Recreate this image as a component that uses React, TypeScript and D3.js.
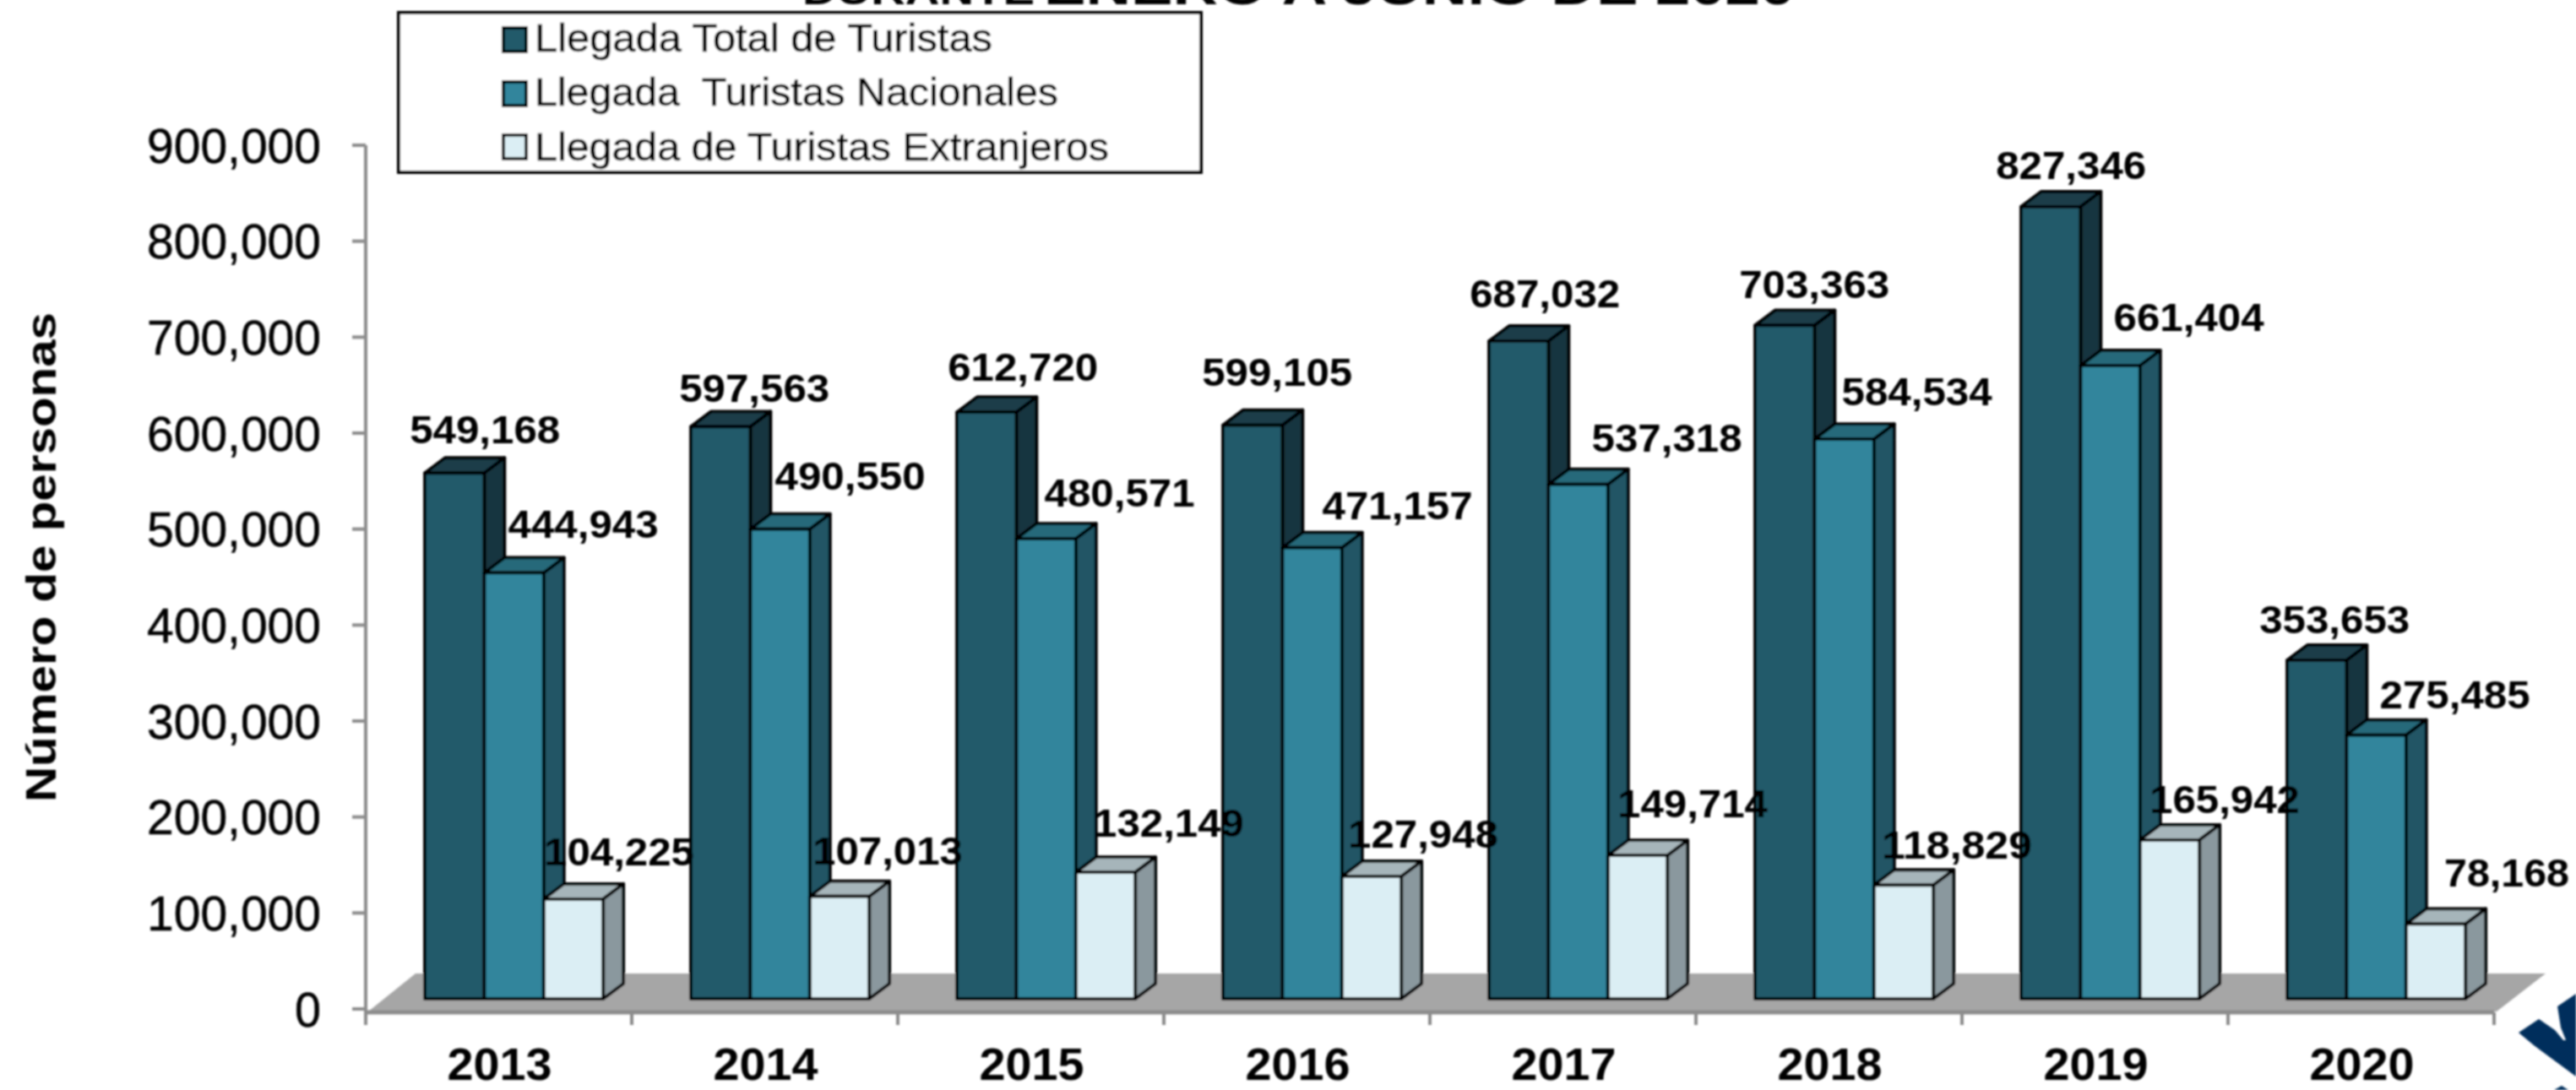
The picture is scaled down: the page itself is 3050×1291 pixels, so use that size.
import React from "react";
import * as d3 from "d3";

const years = ["2013", "2014", "2015", "2016", "2017", "2018", "2019", "2020"];
const seriesNames = ["Llegada Total de Turistas", "Llegada\u00a0 Turistas Nacionales", "Llegada de Turistas Extranjeros"];
const totalValues = [549168, 597563, 612720, 599105, 687032, 703363, 827346, 353653];
const nationalValues = [444943, 490550, 480571, 471157, 537318, 584534, 661404, 275485];
const foreignValues = [104225, 107013, 132149, 127948, 149714, 118829, 165942, 78168];
const axisTicks = [0, 100000, 200000, 300000, 400000, 500000, 600000, 700000, 800000, 900000];

const seriesValues = [totalValues, nationalValues, foreignValues];
const frontFill = ["#215a6a", "#31859c", "#dbeef4"];
const sideFill = ["#17363f", "#205565", "#8a989e"];
const topFill = ["#1a3e48", "#26697a", "#a6b5ba"];

// label nudges from the top-centre of each bar (series -> year)
const labelNudge = [
  [[36, -52], [40, -46], [43, -54], [29, -63], [31, -56], [35, -49], [24, -49], [21, -49]],
  [[82, -58], [83, -63], [87, -55], [101, -50], [105, -55], [86, -57], [93, -58], [93, -48]],
  [[54, -56], [57, -54], [75, -59], [61, -50], [65, -62], [63, -48], [65, -48], [84, -61]],
];

const fmt = d3.format(",");
const FONT = "'Liberation Sans', Arial, sans-serif";

const x = d3.scaleBand<string>().domain(years).range([433, 2953]);
const axisY = d3.scaleLinear().domain([0, 900000]).range([1195, 172]);
const barY = d3.scaleLinear().domain([0, 1000000]).range([1183, 49]);
const BAR_W = 70.4;
const DX = 24;
const DY = 18;
const barX = (yearIdx: number, s: number) => (x(years[yearIdx]) as number) + 70 + s * BAR_W;
const pts = (p: number[][]) => p.map((q) => q.join(",")).join(" ");

const logoA = [[2982, 1223], [3006, 1207], [3025, 1220], [3035, 1232], [3038, 1232], [3032, 1217], [3028, 1192], [3050, 1177], [3050, 1275], [3000, 1238]];
const logoB = [[3024, 1291], [3033, 1286], [3041, 1291]];

export default function App() {
  return (
    <svg width={3050} height={1291} viewBox="0 0 3050 1291" style={{ position: "fixed", left: 0, top: 0, background: "#fff" }} fontFamily={FONT}>
      <defs>
        <filter id="soft" x="0" y="0" width="3050" height="1291" filterUnits="userSpaceOnUse">
          <feGaussianBlur stdDeviation="0.8" />
        </filter>
      </defs>
      <g filter="url(#soft)">
        {/* clipped title */}
        <text x={950} y={5} fontSize={46} fontWeight="bold" textLength={275} lengthAdjust="spacingAndGlyphs">DURANTE</text>
        <text x={1236} y={5} fontSize={60} fontWeight="bold" textLength={889} lengthAdjust="spacingAndGlyphs">ENERO A JUNIO DE 2020</text>

        {/* floor */}
        <polygon points={pts([[436, 1198], [492, 1153], [3014, 1153], [2956, 1198]])} fill="#a6a6a6" />

        {/* axes */}
        <line x1={433} x2={433} y1={172} y2={1214} stroke="#8c8c8c" strokeWidth={4} />
        <line x1={433} x2={2953} y1={1199} y2={1199} stroke="#8c8c8c" strokeWidth={5} />
        {axisTicks.map((t) => (
          <g key={t}>
            <line x1={417} x2={433} y1={axisY(t)} y2={axisY(t)} stroke="#8c8c8c" strokeWidth={4} />
            <text x={380} y={axisY(t)} dy="0.36em" fontSize={57} textAnchor="end" fill="#000" stroke="#000" strokeWidth={0.5} textLength={t === 0 ? 31 : 206} lengthAdjust="spacingAndGlyphs">{fmt(t)}</text>
          </g>
        ))}
        {years.map((yr) => (
          <line key={yr} x1={(x(yr) as number) + x.bandwidth()} x2={(x(yr) as number) + x.bandwidth()} y1={1199} y2={1214} stroke="#8c8c8c" strokeWidth={4} />
        ))}
        {years.map((yr) => (
          <text key={yr} x={(x(yr) as number) + x.bandwidth() / 2 + 1} y={1279} fontSize={54} fontWeight="bold" textAnchor="middle" fill="#000" textLength={124} lengthAdjust="spacingAndGlyphs">{yr}</text>
        ))}

        {/* bars */}
        {years.map((yr, i) => (
          <g key={yr}>
            {seriesValues.map((vals, s) => {
              const x0 = barX(i, s);
              const x1 = x0 + BAR_W;
              const y0 = barY(vals[i]);
              const yb = barY(0);
              return (
                <g key={s} stroke="#000" strokeWidth={3.8} strokeLinejoin="round">
                  <polygon points={pts([[x0, y0], [x0 + DX, y0 - DY], [x1 + DX, y0 - DY], [x1, y0]])} fill={topFill[s]} />
                  <polygon points={pts([[x1, y0], [x1 + DX, y0 - DY], [x1 + DX, yb - DY], [x1, yb]])} fill={sideFill[s]} />
                  <rect x={x0} y={y0} width={BAR_W} height={yb - y0} fill={frontFill[s]} />
                </g>
              );
            })}
          </g>
        ))}

        {/* value labels */}
        {seriesValues.map((vals, s) =>
          vals.map((v, i) => (
            <text
              key={`${s}-${i}`}
              x={barX(i, s) + BAR_W / 2 + labelNudge[s][i][0]}
              y={barY(v) + labelNudge[s][i][1]}
              dy="0.36em"
              fontSize={46}
              fontWeight="bold"
              textAnchor="middle"
              fill="#000"
              textLength={v < 100000 ? 148 : 178}
              lengthAdjust="spacingAndGlyphs"
            >
              {fmt(v)}
            </text>
          ))
        )}

        {/* axis title */}
        <text transform="translate(66,660) rotate(-90)" fontSize={50} fontWeight="bold" textAnchor="middle" textLength={580} lengthAdjust="spacingAndGlyphs">Número de personas</text>

        {/* legend */}
        <rect x={472} y={15} width={950} height={189} fill="#fff" stroke="#000" strokeWidth={4} />
        {seriesNames.map((n, s) => (
          <g key={n}>
            <rect x={596} y={[33, 97, 160][s]} width={27} height={28} fill={frontFill[s]} stroke="#000" strokeWidth={4} />
            <text x={633} y={[61, 125, 190][s]} fontSize={46} fill="#000" stroke="#000" strokeWidth={0.5} textLength={[542, 620, 680][s]} lengthAdjust="spacingAndGlyphs">{n}</text>
          </g>
        ))}

        {/* partial logo */}
        <polygon points={pts(logoA)} fill="#002f5c" />
        <polygon points={pts(logoB)} fill="#002f5c" />
      </g>
    </svg>
  );
}
